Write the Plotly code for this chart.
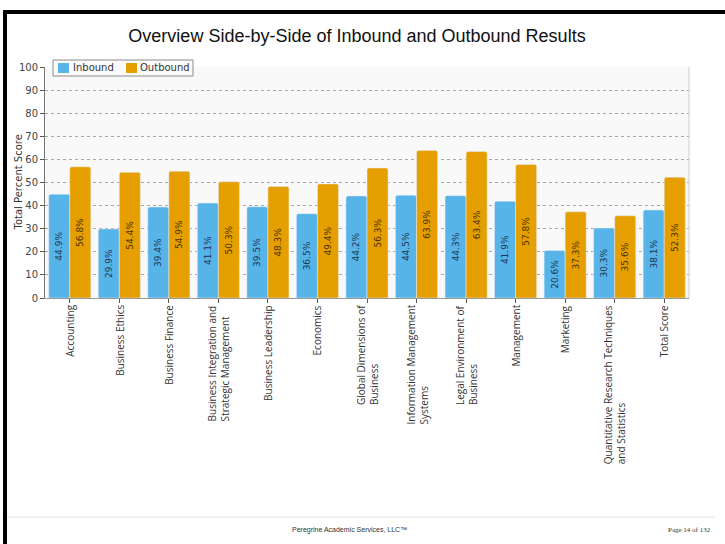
import plotly.graph_objects as go

# Course areas and mean scores (percent) for the two student groups
categories = [
    "Accounting",
    "Business Ethics",
    "Business Finance",
    "Business Integration and<br>Strategic Management",
    "Business Leadership",
    "Economics",
    "Global Dimensions of<br>Business",
    "Information Management<br>Systems",
    "Legal Environment of<br>Business",
    "Management",
    "Marketing",
    "Quantitative Research Techniques<br>and Statistics",
    "Total Score",
]
inbound = [44.9, 29.9, 39.4, 41.1, 39.5, 36.5, 44.2, 44.5, 44.3, 41.9, 20.6, 30.3, 38.1]
outbound = [56.8, 54.4, 54.9, 50.3, 48.3, 49.4, 56.3, 63.9, 63.4, 57.8, 37.3, 35.6, 52.3]
series_names = ["Inbound", "Outbound"]
y_ticks = list(range(0, 101, 10))

W, H = 725, 544
L, R, T, B = 45, 36, 67, 246
PW, PH = W - L - R, H - T - B


def px_x(px):
    return (px - L) / PW


def px_y(py):
    return (H - B - py) / PH


BLUE = "#56B4E9"
ORANGE = "#E69F00"

fig = go.Figure()
fig.add_trace(go.Bar(
    name=series_names[0], x=categories, y=inbound, marker_color=BLUE,
    texttemplate="%{y:.1f}%", textposition="inside", insidetextanchor="middle",
    textangle=-90, textfont=dict(size=9, color="#1f3550", family="DejaVu Sans"),
))
fig.add_trace(go.Bar(
    name=series_names[1], x=categories, y=outbound, marker_color=ORANGE,
    texttemplate="%{y:.1f}%", textposition="inside", insidetextanchor="middle",
    textangle=-90, textfont=dict(size=9, color="#4a3200", family="DejaVu Sans"),
))

# category labels, rotated and left-aligned so wrapped lines share a start point
label_ann = [
    dict(x=c, xref="x", y=0, yref="paper", yshift=-5, text=c, showarrow=False,
         textangle=-90, align="left", xanchor="center", yanchor="top",
         font=dict(family="Open Sans", size=10, color="#333333"))
    for c in categories
]

# compact boxed key in the top-left corner of the plot
key_font = dict(family="DejaVu Sans", size=10, color="#333333")
key_ann = [
    dict(x=px_x(71), y=px_y(68), xref="paper", yref="paper", xanchor="left",
         yanchor="middle", showarrow=False, text=series_names[0], font=key_font),
    dict(x=px_x(138), y=px_y(68), xref="paper", yref="paper", xanchor="left",
         yanchor="middle", showarrow=False, text=series_names[1], font=key_font),
]
key_shapes = [
    dict(type="rect", xref="paper", yref="paper", x0=px_x(53), x1=px_x(193),
         y0=px_y(76), y1=px_y(60), fillcolor="#fbfbfb",
         line=dict(color="#8a8a8a", width=1), layer="above"),
    dict(type="rect", xref="paper", yref="paper", x0=px_x(58), x1=px_x(69),
         y0=px_y(73), y1=px_y(63), fillcolor=BLUE, line_width=0, layer="above"),
    dict(type="rect", xref="paper", yref="paper", x0=px_x(126), x1=px_x(137),
         y0=px_y(73), y1=px_y(63), fillcolor=ORANGE, line_width=0, layer="above"),
]

page_ann = [
    dict(x=px_x(290), y=px_y(530), xref="paper", yref="paper", xanchor="left",
         yanchor="middle", showarrow=False, text="Peregrine Academic Services, LLC™",
         font=dict(family="Liberation Sans", size=7, color="#333333")),
    dict(x=px_x(713), y=px_y(530), xref="paper", yref="paper", xanchor="right",
         yanchor="middle", showarrow=False, text="Page 14 of 132",
         font=dict(family="Liberation Serif", size=7, color="#333333")),
    # vertical axis caption
    dict(x=px_x(18), y=0.5, xref="paper", yref="paper", xanchor="center",
         yanchor="middle", showarrow=False, text="Total Percent Score", textangle=-90,
         font=dict(family="DejaVu Sans", size=10, color="#333333")),
]

shapes = [
    # page frame (top and left edges)
    dict(type="rect", xref="paper", yref="paper", x0=px_x(3), x1=px_x(W + 5),
         y0=px_y(14), y1=px_y(10), fillcolor="black", line_width=0, layer="above"),
    dict(type="rect", xref="paper", yref="paper", x0=px_x(3), x1=px_x(7),
         y0=px_y(H + 5), y1=px_y(10), fillcolor="black", line_width=0, layer="above"),
    # footer rule
    dict(type="line", xref="paper", yref="paper", x0=px_x(7), x1=px_x(715),
         y0=px_y(517), y1=px_y(517), line=dict(color="#e2e2e2", width=1)),
    # right edge of plot area
    dict(type="line", xref="paper", yref="paper", x0=1, x1=1, y0=0, y1=1,
         line=dict(color="#cccccc", width=1)),
] + key_shapes

fig.update_layout(
    width=W, height=H,
    margin=dict(l=L, r=R, t=T, b=B),
    paper_bgcolor="white",
    plot_bgcolor="#f9f9f9",
    showlegend=False,
    barmode="group", bargap=0.15, bargroupgap=0.0, barcornerradius=2,
    title=dict(text="Overview Side-by-Side of Inbound and Outbound Results",
               x=357 / W, xanchor="center", y=1 - 36 / H, yanchor="middle",
               font=dict(family="Liberation Sans", size=18, color="#111111")),
    font=dict(family="Open Sans", size=10, color="#333333"),
    xaxis=dict(showticklabels=False, ticks="outside", ticklen=4, tickcolor="#555555",
               showline=True, linecolor="#999999", linewidth=1, showgrid=False),
    yaxis=dict(range=[0, 100], tickvals=y_ticks, ticks="outside", ticklen=4,
               tickcolor="#555555", showline=True, linecolor="#777777", linewidth=1,
               showgrid=True, gridcolor="#a8a8a8", griddash="dot", gridwidth=1,
               zeroline=False,
               tickfont=dict(family="DejaVu Sans", size=10, color="#444444")),
    annotations=label_ann + key_ann + page_ann,
    shapes=shapes,
)

fig.write_html("out.html")
